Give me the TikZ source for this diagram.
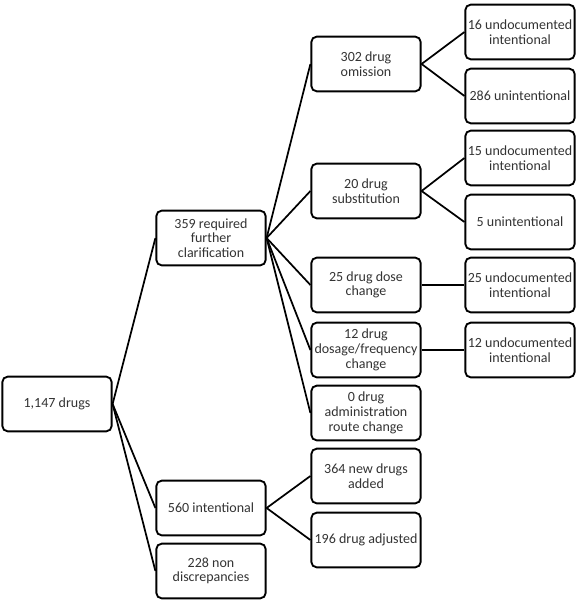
\documentclass[tikz,border=0pt]{standalone}
\usepackage{fontspec}
\setmainfont{Carlito}
\usepackage{tikz}

\tikzset{
  box/.style={draw, rounded corners=4pt, line width=1.4pt, fill=white,
    minimum width=82pt, minimum height=41pt,
    align=center, inner sep=1pt, font=\fontsize{10.5}{11}\selectfont, text=black!80},
  link/.style={line width=1.3pt}
}

\begin{document}
\begin{tikzpicture}[x=0.75pt, y=-0.75pt];
    \useasboundingbox (0,0) rectangle (584,605);

    \node[box] (drugs) at (57,404) {1,147 drugs};

    \node[box] (clar) at (211,238) {359 required\\further\\clarification};
    \node[box] (intent) at (211,508) {560 intentional};
    \node[box] (nondisc) at (211,571) {228 non\\discrepancies};

    \node[box] (omis) at (366,64) {302 drug\\omission};
    \node[box] (subst) at (366,191) {20 drug\\substitution};
    \node[box] (dose) at (366,285) {25 drug dose\\change};
    \node[box] (freq) at (366,350) {12 drug\\dosage/frequency\\change};
    \node[box] (route) at (366,413) {0 drug\\administration\\route change};
    \node[box] (added) at (366,476) {364 new drugs\\added};
    \node[box] (adjust) at (366,540) {196 drug adjusted};

    \node[box] (omisA) at (520,32) {16 undocumented\\intentional};
    \node[box] (omisB) at (520,96) {286 unintentional};
    \node[box] (substA) at (520,158) {15 undocumented\\intentional};
    \node[box] (substB) at (520,222) {5 unintentional};
    \node[box] (doseA) at (520,285) {25 undocumented\\intentional};
    \node[box] (freqA) at (520,350) {12 undocumented\\intentional};

    \foreach \a/\b in {drugs/clar, drugs/intent, drugs/nondisc,
                       clar/omis, clar/subst, clar/dose, clar/freq, clar/route,
                       intent/added, intent/adjust,
                       omis/omisA, omis/omisB, subst/substA, subst/substB,
                       dose/doseA, freq/freqA}
        \draw[link] (\a.east) -- (\b.west);
\end{tikzpicture}
\end{document}
